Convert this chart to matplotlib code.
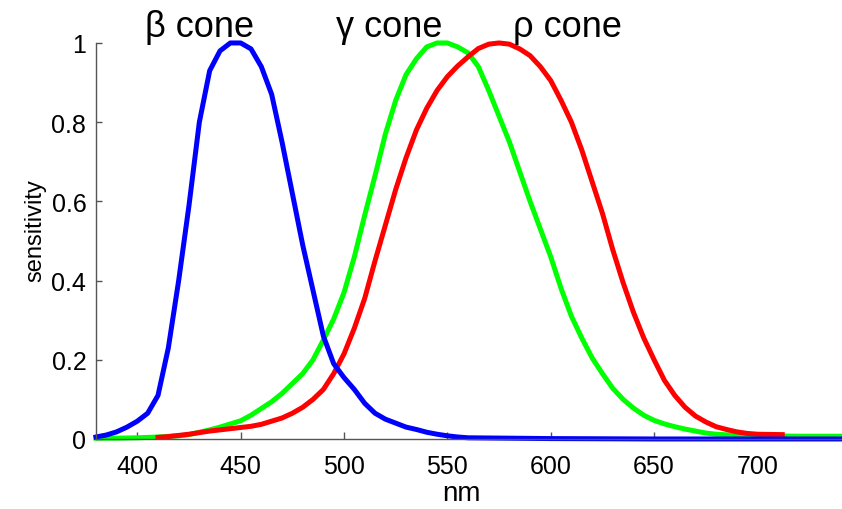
import numpy as np
import matplotlib.pyplot as plt

# cone sensitivity curves, wavelength in nm
beta_nm = [380, 385, 390, 395, 400, 405, 410, 415, 420, 425, 430, 435, 440, 445,
           450, 455, 460, 465, 470, 475, 480, 485, 490, 495, 500, 505, 510, 515,
           520, 525, 530, 535, 540, 545, 550, 555, 560, 600, 650, 700, 741]
beta_val = [0.005, 0.01, 0.018, 0.03, 0.045, 0.065, 0.11, 0.23, 0.40, 0.59, 0.80,
            0.93, 0.98, 1.0, 1.0, 0.985, 0.94, 0.87, 0.75, 0.62, 0.49, 0.375,
            0.26, 0.19, 0.155, 0.125, 0.09, 0.065, 0.05, 0.04, 0.03, 0.024,
            0.017, 0.012, 0.008, 0.005, 0.003, 0.001, 0.0, 0.0, 0.0]

gamma_nm = [380, 390, 400, 410, 420, 425, 430, 435, 440, 445, 450, 455, 460, 465,
            470, 475, 480, 485, 490, 495, 500, 505, 510, 515, 520, 525, 530, 535,
            540, 545, 550, 555, 560, 565, 570, 575, 580, 585, 590, 595, 600, 605,
            610, 615, 620, 625, 630, 635, 640, 645, 650, 655, 660, 665, 670, 675,
            680, 690, 700, 720, 741]
gamma_val = [0.002, 0.002, 0.003, 0.005, 0.008, 0.011, 0.017, 0.023, 0.03, 0.038,
             0.046, 0.06, 0.077, 0.094, 0.115, 0.14, 0.165, 0.2, 0.25, 0.303,
             0.37, 0.46, 0.565, 0.665, 0.77, 0.855, 0.92, 0.96, 0.99, 1.0, 1.0,
             0.99, 0.975, 0.94, 0.88, 0.815, 0.75, 0.675, 0.60, 0.53, 0.46, 0.38,
             0.31, 0.255, 0.205, 0.165, 0.128, 0.1, 0.078, 0.06, 0.047, 0.038,
             0.031, 0.025, 0.02, 0.015, 0.012, 0.009, 0.008, 0.007, 0.007]

rho_nm = [410, 415, 420, 425, 430, 435, 440, 445, 450, 455, 460, 465, 470,
          475, 480, 485, 490, 495, 500, 505, 510, 515, 520, 525, 530, 535, 540,
          545, 550, 555, 560, 565, 570, 575, 580, 585, 590, 595, 600, 605, 610,
          615, 620, 625, 630, 635, 640, 645, 650, 655, 660, 665, 670, 675, 680,
          685, 690, 695, 700, 712]
rho_val = [0.004, 0.006, 0.009, 0.012, 0.016, 0.02, 0.023, 0.026, 0.029,
           0.032, 0.037, 0.045, 0.053, 0.065, 0.08, 0.1, 0.125, 0.165, 0.215,
           0.28, 0.355, 0.45, 0.54, 0.63, 0.71, 0.78, 0.835, 0.88, 0.915, 0.942,
           0.965, 0.986, 0.997, 1.0, 0.997, 0.985, 0.968, 0.94, 0.905, 0.855,
           0.80, 0.73, 0.65, 0.57, 0.478, 0.395, 0.32, 0.255, 0.2, 0.148, 0.11,
           0.08, 0.058, 0.043, 0.031, 0.024, 0.018, 0.014, 0.012, 0.011]

cone_names = ['β cone', 'γ cone', 'ρ cone']
cone_label_nm = [430, 522, 608]

x_ticks = [400, 450, 500, 550, 600, 650, 700]
y_ticks = [0, 0.2, 0.4, 0.6, 0.8, 1]
y_ticklabels = ['0', '0.2', '0.4', '0.6', '0.8', '1']

fonts = ['Liberation Sans', 'DejaVu Sans']

fig = plt.figure(figsize=(8.42, 5.10), dpi=100)
ax = fig.add_axes([0.114, 0.1373, 0.885, 0.7765])

lw = 3.6
ax.plot(gamma_nm, gamma_val, color='#00ff00', lw=lw, clip_on=False)
ax.plot(rho_nm, rho_val, color='#ff0000', lw=lw, clip_on=False)
ax.plot(beta_nm, beta_val, color='#0000ff', lw=lw, clip_on=False)

ax.set_xlim(380, 740.5)
ax.set_ylim(0, 1)

ax.set_xticks(x_ticks)
ax.set_yticks(y_ticks)
ax.set_yticklabels(y_ticklabels)

for side in ['top', 'right']:
    ax.spines[side].set_visible(False)
for side in ['left', 'bottom']:
    ax.spines[side].set_color('#555555')
    ax.spines[side].set_linewidth(1.0)

ax.tick_params(axis='both', direction='in', color='#555555', width=1.0,
               labelsize=18)
ax.tick_params(axis='x', length=5, pad=11)
ax.tick_params(axis='y', length=4.5, pad=7)
for lab in ax.get_xticklabels() + ax.get_yticklabels():
    lab.set_family(fonts)

ax.set_xlabel('nm', fontsize=20, family=fonts, va='baseline')
ax.set_ylabel('sensitivity', fontsize=17, family=fonts)
ax.xaxis.set_label_coords(0.49, -0.155)
ax.yaxis.set_label_coords(-0.067, 0.528)

trans = ax.get_xaxis_transform()
for name, xpos in zip(cone_names, cone_label_nm):
    ax.text(xpos, 1.018, name, transform=trans, ha='center', va='baseline',
            fontsize=26, family=fonts)

plt.savefig('out.png', dpi=100)
